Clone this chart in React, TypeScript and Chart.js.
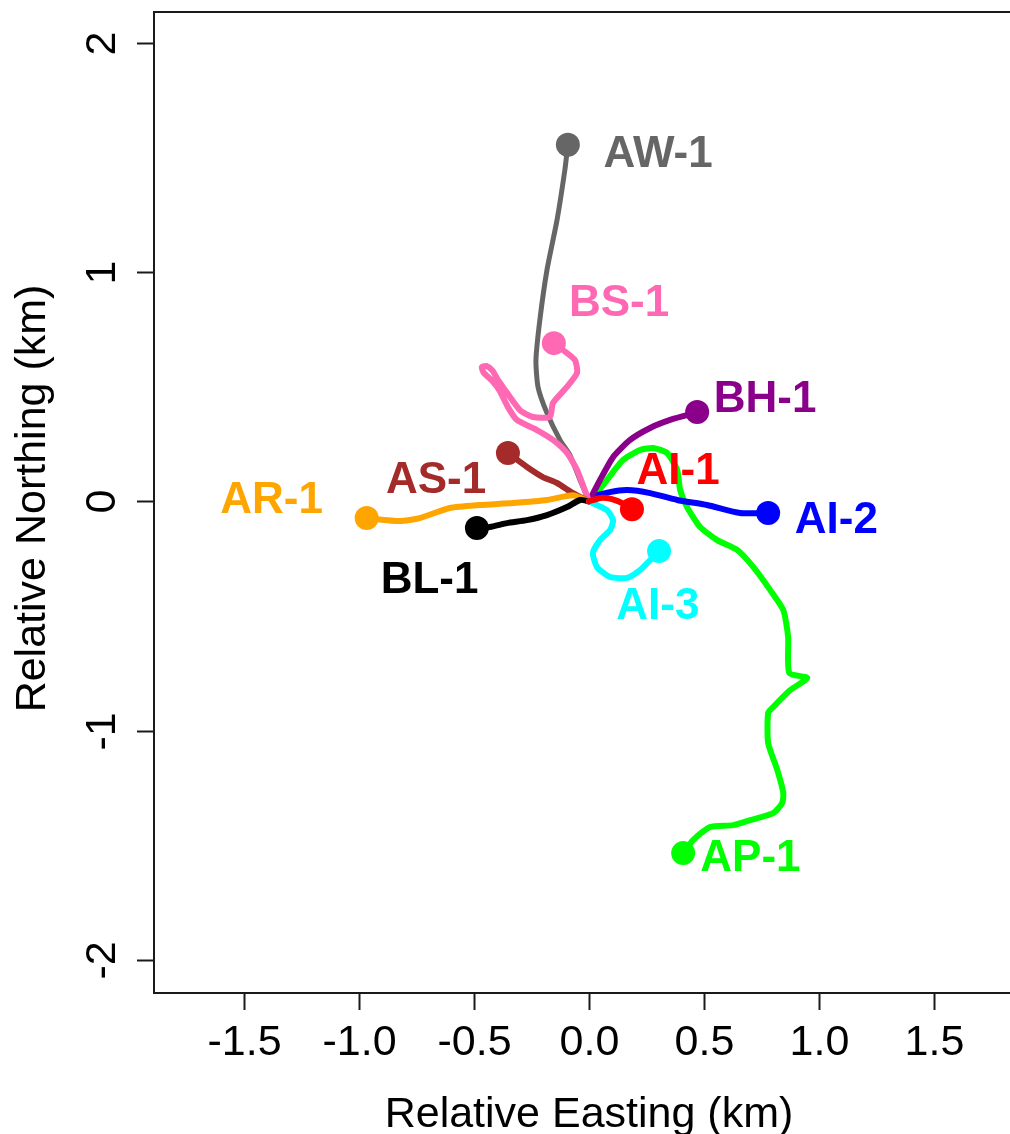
import React, { useEffect, useRef } from "react";
import { Chart, registerables } from "chart.js";

Chart.register(...registerables);

// ---- Axis ticks ----
const xTicks = [-1.5, -1.0, -0.5, 0, 0.5, 1.0, 1.5];
const xTickLabels = ["-1.5", "-1.0", "-0.5", "0.0", "0.5", "1.0", "1.5"];
const yTicks = [-2, -1, 0, 1, 2];
const yTickLabels = ["-2", "-1", "0", "1", "2"];
const xTitle = "Relative Easting (km)";
const yTitle = "Relative Northing (km)";

// ---- Tracks (Easting / Northing, km) ----
const AW1_E = [0, -0.039, -0.083, -0.126, -0.183, -0.222, -0.231, -0.214, -0.183, -0.139, -0.105, -0.092];
const AW1_N = [0, 0.093, 0.202, 0.267, 0.385, 0.499, 0.616, 0.791, 1.009, 1.228, 1.446, 1.555];

const BS1_E = [0, -0.052, -0.096, -0.157, -0.227, -0.314, -0.353, -0.39, -0.423, -0.458, -0.467, -0.445, -0.42, -0.4, -0.375, -0.301, -0.244, -0.17, -0.157, -0.096, -0.052, -0.061, -0.113, -0.153];
const BS1_N = [0, 0.137, 0.211, 0.268, 0.311, 0.355, 0.411, 0.484, 0.527, 0.56, 0.585, 0.59, 0.57, 0.535, 0.499, 0.398, 0.368, 0.368, 0.429, 0.499, 0.56, 0.616, 0.66, 0.69];

const AS1_E = [0, -0.07, -0.139, -0.201, -0.27, -0.353];
const AS1_N = [0, 0.036, 0.08, 0.106, 0.15, 0.211];

const AR1_E = [0, -0.07, -0.183, -0.331, -0.475, -0.606, -0.737, -0.824, -0.968];
const AR1_N = [0, 0.027, 0.006, -0.007, -0.016, -0.029, -0.073, -0.086, -0.073];

const BL1_E = [0, -0.039, -0.096, -0.183, -0.27, -0.357, -0.432, -0.488];
const BL1_N = [0, 0.006, -0.025, -0.06, -0.082, -0.095, -0.112, -0.116];

const BH1_E = [0, 0.048, 0.105, 0.179, 0.266, 0.353, 0.427, 0.471];
const BH1_N = [0, 0.093, 0.193, 0.268, 0.32, 0.355, 0.376, 0.39];

const AI1_E = [0, 0.05, 0.1, 0.15, 0.187];
const AI1_N = [0, 0.015, 0.01, -0.01, -0.034];

const AI2_E = [0, 0.017, 0.09, 0.166, 0.266, 0.384, 0.514, 0.658, 0.78];
const AI2_N = [0, 0.019, 0.04, 0.049, 0.036, 0.006, -0.016, -0.051, -0.051];

const AI3_E = [0, 0.078, 0.105, 0.092, 0.048, 0.017, 0.035, 0.092, 0.166, 0.222, 0.266, 0.305];
const AI3_N = [0, -0.038, -0.082, -0.125, -0.169, -0.225, -0.287, -0.33, -0.334, -0.3, -0.256, -0.217];

const AP1_E = [0, 0.017, 0.078, 0.148, 0.222, 0.279, 0.34, 0.384, 0.397, 0.427, 0.484, 0.558, 0.645, 0.715, 0.789, 0.846, 0.867, 0.872, 0.95, 0.876, 0.802, 0.78, 0.78, 0.82, 0.846, 0.841, 0.802, 0.702, 0.628, 0.527, 0.453, 0.41];
const AP1_N = [0, 0.014, 0.093, 0.18, 0.224, 0.233, 0.211, 0.137, 0.049, -0.025, -0.112, -0.169, -0.212, -0.286, -0.387, -0.474, -0.591, -0.748, -0.77, -0.823, -0.897, -0.923, -1.054, -1.172, -1.272, -1.316, -1.36, -1.39, -1.412, -1.42, -1.477, -1.534];

// ---- Track names and label anchors (km) ----
const trackNames = ["AI-1", "AI-3", "BL-1", "AR-1", "AS-1", "BS-1", "AW-1", "BH-1", "AI-2", "AP-1"];
const trackE = [AI1_E, AI3_E, BL1_E, AR1_E, AS1_E, BS1_E, AW1_E, BH1_E, AI2_E, AP1_E];
const trackN = [AI1_N, AI3_N, BL1_N, AR1_N, AS1_N, BS1_N, AW1_N, BH1_N, AI2_N, AP1_N];
const labelE = [0.388, 0.3, -0.694, -1.382, -0.666, 0.131, 0.301, 0.767, 1.077, 0.703];
const labelN = [0.145, -0.444, -0.332, 0.017, 0.104, 0.878, 1.525, 0.459, -0.071, -1.545];

// ---- Styles ----
const trackColors: Record<string, string> = {
  "AI-1": "#FF0000",
  "AI-3": "#00FFFF",
  "BL-1": "#000000",
  "AR-1": "#FFA500",
  "AS-1": "#A52A2A",
  "BS-1": "#FF69B4",
  "AW-1": "#666666",
  "BH-1": "#8B008B",
  "AI-2": "#0000FF",
  "AP-1": "#00FF00",
};

const FONT = "Arial, 'Liberation Sans', sans-serif";
const FS = 43;
const LFS = 44;

const axesPlugin = {
  id: "rAxes",
  afterDatasetsDraw(chart: any) {
    const { ctx, chartArea, scales } = chart;
    const { left, right, top, bottom } = chartArea;
    const x = scales.x;
    const y = scales.y;
    ctx.save();
    // track labels
    ctx.font = `bold ${LFS}px ${FONT}`;
    ctx.textAlign = "center";
    ctx.textBaseline = "alphabetic";
    trackNames.forEach((name, i) => {
      ctx.fillStyle = trackColors[name];
      const px = x.getPixelForValue(labelE[i]);
      const py = y.getPixelForValue(labelN[i]) + LFS * 0.358;
      ctx.fillText(name, px, py);
    });
    // box
    ctx.strokeStyle = "#1a1a1a";
    ctx.lineWidth = 2;
    ctx.strokeRect(left, top, right - left, bottom - top);
    ctx.fillStyle = "#000";
    ctx.font = `${FS}px ${FONT}`;
    // x ticks
    xTicks.forEach((v, i) => {
      const px = Math.round(x.getPixelForValue(v)) + 0.5;
      ctx.beginPath();
      ctx.moveTo(px, bottom);
      ctx.lineTo(px, bottom + 17);
      ctx.stroke();
      ctx.textAlign = "center";
      ctx.textBaseline = "alphabetic";
      ctx.fillText(xTickLabels[i], px, bottom + 62);
    });
    // y ticks
    yTicks.forEach((v, i) => {
      const py = Math.round(y.getPixelForValue(v)) + 0.5;
      ctx.beginPath();
      ctx.moveTo(left, py);
      ctx.lineTo(left - 17, py);
      ctx.stroke();
      ctx.save();
      ctx.translate(left - 39, py);
      ctx.rotate(-Math.PI / 2);
      ctx.textAlign = "center";
      ctx.textBaseline = "alphabetic";
      ctx.fillText(yTickLabels[i], 0, 0);
      ctx.restore();
    });
    // titles
    ctx.textAlign = "center";
    ctx.textBaseline = "alphabetic";
    ctx.fillText(xTitle, (left + right) / 2, bottom + 134);
    ctx.save();
    ctx.translate(left - 109, (top + bottom) / 2 - 4);
    ctx.rotate(-Math.PI / 2);
    ctx.fillText(yTitle, 0, 0);
    ctx.restore();
    ctx.restore();
  },
};

export default function App() {
  const ref = useRef<HTMLCanvasElement | null>(null);
  useEffect(() => {
    if (!ref.current) return;
    const datasets = trackNames.map((name, i) => {
      const pts = trackE[i].map((e, j) => ({ x: e, y: trackN[i][j] }));
      const last = pts.length - 1;
      const color = trackColors[name];
      return {
        label: name,
        data: pts,
        showLine: true,
        borderColor: color,
        backgroundColor: color,
        borderWidth: name === "AW-1" ? 5 : 6,
        borderJoinStyle: "round" as const,
        borderCapStyle: "round" as const,
        tension: 0.2,
        pointRadius: (c: any) => (c.dataIndex === last ? 12 : 0),
        pointBackgroundColor: color,
        pointBorderWidth: 0,
        pointHoverRadius: 0,
        clip: false as any,
      };
    });
    const chart = new Chart(ref.current, {
      type: "scatter",
      data: { datasets },
      options: {
        animation: false,
        responsive: false,
        devicePixelRatio: 1,
        events: [],
        layout: { padding: { left: 154, top: 12, right: 16, bottom: 141 } },
        plugins: { legend: { display: false }, tooltip: { enabled: false } },
        scales: {
          x: { type: "linear", min: -1.894, max: 1.894, display: false },
          y: { type: "linear", min: -2.144, max: 2.134, display: false },
        },
      },
      plugins: [axesPlugin],
    });
    return () => chart.destroy();
  }, []);
  return (
    <div
      style={{
        position: "fixed",
        left: 0,
        top: 0,
        width: 1010,
        height: 1134,
        overflow: "hidden",
        background: "#fff",
      }}
    >
      <canvas ref={ref} width={1040} height={1134} style={{ display: "block", width: 1040, height: 1134 }} />
    </div>
  );
}
